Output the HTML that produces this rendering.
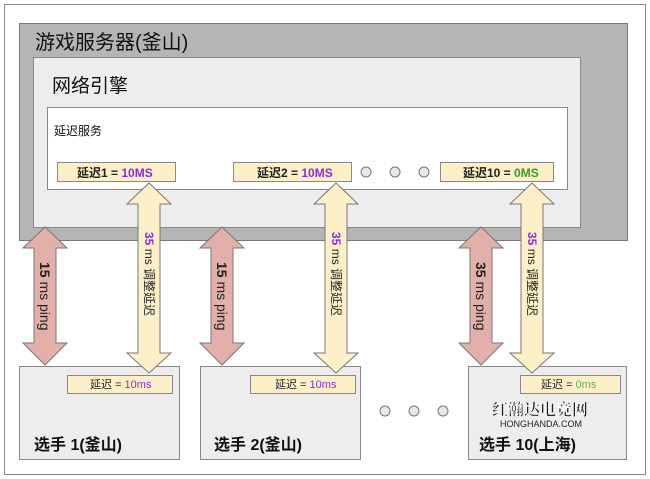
<!DOCTYPE html>
<html><head><meta charset="utf-8"><style>
body{margin:0;background:#fff}
svg{display:block;font-family:"Liberation Sans","Noto Sans CJK SC",sans-serif}
</style></head><body>
<svg width="650" height="479" viewBox="0 0 650 479" xmlns="http://www.w3.org/2000/svg">
<rect x="4.5" y="4.5" width="641" height="470" fill="#fff" stroke="#888" stroke-width="1"/>
<rect x="19.5" y="23.5" width="608" height="217" fill="#b5b5b5" stroke="#777"/>
<text x="35" y="49" font-size="20" fill="#111">游戏服务器(釜山)</text>
<rect x="33.5" y="57.5" width="547" height="170" fill="#ededed" stroke="#888"/>
<text x="52" y="92" font-size="19" fill="#111">网络引擎</text>
<rect x="47.5" y="107.5" width="520" height="82" fill="#fff" stroke="#888"/>
<text x="54" y="135" font-size="12" fill="#111">延迟服务</text>
<g font-size="12" font-weight="bold">
<rect x="57.5" y="162.5" width="118" height="19" fill="#fdf0c8" stroke="#888"/>
<text x="77" y="177" fill="#222">延迟1 = <tspan fill="#8a2be2">10MS</tspan></text>
<rect x="233.5" y="162.5" width="118" height="19" fill="#fdf0c8" stroke="#888"/>
<text x="257" y="177" fill="#222">延迟2 = <tspan fill="#8a2be2">10MS</tspan></text>
<rect x="440.5" y="162.5" width="113" height="19" fill="#fdf0c8" stroke="#888"/>
<text x="463" y="177" fill="#222">延迟10 = <tspan fill="#3a9a2a">0MS</tspan></text>
</g>
<g fill="#e8e8e8" stroke="#777"><circle cx="366" cy="172" r="5"/><circle cx="395" cy="172" r="5"/><circle cx="424" cy="172" r="5"/>
<circle cx="385" cy="411" r="5"/><circle cx="414" cy="411" r="5"/><circle cx="443" cy="411" r="5"/></g>
<!-- players -->
<g fill="#ededed" stroke="#888">
<rect x="19.5" y="366.5" width="160" height="93"/>
<rect x="200.5" y="366.5" width="160" height="93"/>
<rect x="468.5" y="366.5" width="158" height="93"/>
</g>
<g font-size="11">
<rect x="67.5" y="375.5" width="105" height="18" fill="#fdf0c8" stroke="#888"/>
<text x="90" y="388" fill="#222">延迟 = <tspan fill="#8a2be2">10ms</tspan></text>
<rect x="250.5" y="375.5" width="105" height="18" fill="#fdf0c8" stroke="#888"/>
<text x="275" y="388" fill="#222">延迟 = <tspan fill="#8a2be2">10ms</tspan></text>
<rect x="520.5" y="375.5" width="100" height="18" fill="#fdf0c8" stroke="#888"/>
<text x="541" y="388" fill="#222">延迟 = <tspan fill="#6ab04c">0ms</tspan></text>
</g>
<g font-size="16" font-weight="bold" fill="#111">
<text x="34" y="450">选手 1(釜山)</text>
<text x="214" y="450">选手 2(釜山)</text>
<text x="479" y="450">选手 10(上海)</text>
</g>
<text x="492" y="415" font-size="16" font-family="'Noto Serif CJK SC',serif" font-weight="bold" fill="#222" stroke="#fff" stroke-width="0.5">红瀚达电竞网</text>
<text x="500" y="427" font-size="9" fill="#222">HONGHANDA.COM</text>
<!-- arrows -->
<defs>
<path id="pk" d="M0,0 L22,21 L11,21 L11,116 L22,116 L0,138 L-22,116 L-11,116 L-11,21 L-22,21 Z"/>
<path id="yl" d="M0,0 L22,21 L11,21 L11,170 L22,170 L0,190 L-22,170 L-11,170 L-11,21 L-22,21 Z"/>
</defs>
<g fill="#e2b0a8" stroke="#777">
<use href="#pk" x="45" y="227"/><use href="#pk" x="222" y="227"/><use href="#pk" x="481" y="227"/>
</g>
<g fill="#fdf0c8" stroke="#777">
<use href="#yl" x="149" y="183"/><use href="#yl" x="336" y="183"/><use href="#yl" x="532" y="183"/>
</g>
<g font-size="14" fill="#222">
<text transform="translate(40,262) rotate(90)"><tspan font-weight="bold">15</tspan> ms ping</text>
<text transform="translate(217,262) rotate(90)"><tspan font-weight="bold">15</tspan> ms ping</text>
<text transform="translate(476,262) rotate(90)"><tspan font-weight="bold">35</tspan> ms ping</text>
</g>
<g font-size="12" fill="#222">
<text transform="translate(145,232) rotate(90)"><tspan font-weight="bold" fill="#8a2be2">35</tspan> ms 调整延迟</text>
<text transform="translate(332,232) rotate(90)"><tspan font-weight="bold" fill="#8a2be2">35</tspan> ms 调整延迟</text>
<text transform="translate(528,232) rotate(90)"><tspan font-weight="bold" fill="#8a2be2">35</tspan> ms 调整延迟</text>
</g>
</svg>
</body></html>
